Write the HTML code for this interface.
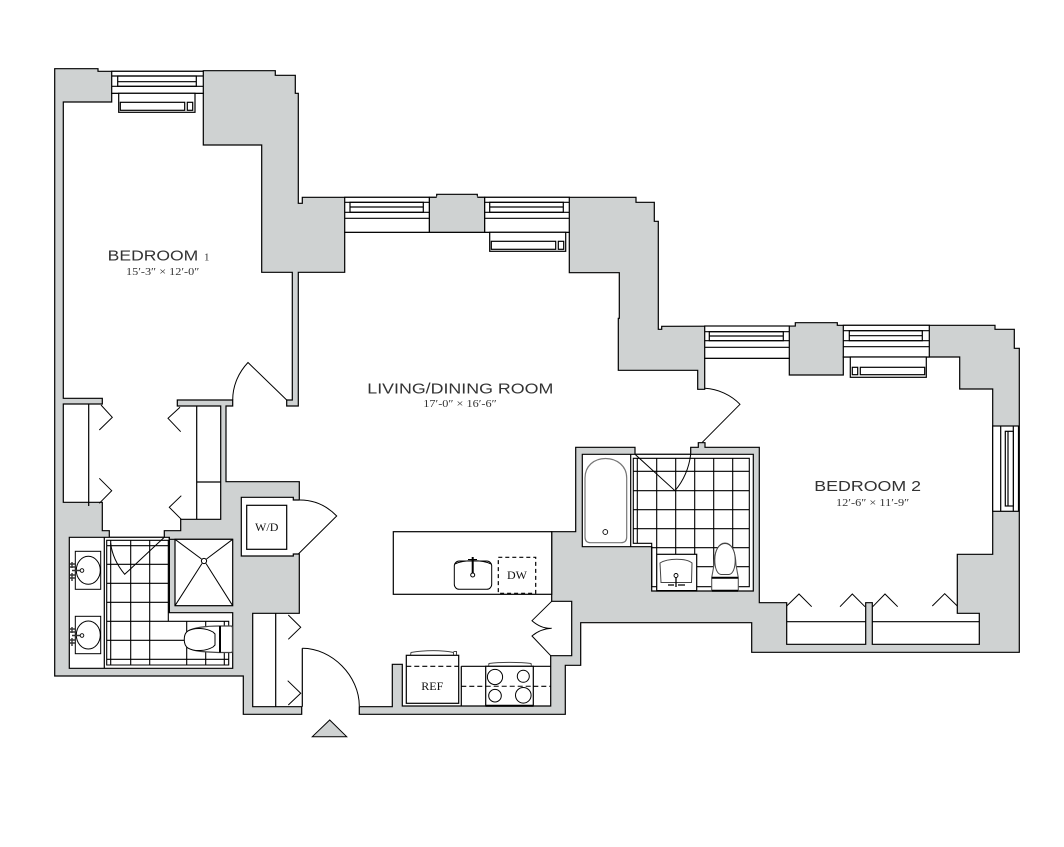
<!DOCTYPE html>
<html>
<head>
<meta charset="utf-8">
<style>
html,body{margin:0;padding:0;background:#fff;width:1064px;height:847px;overflow:hidden}
svg{display:block}
.t{font-family:"Liberation Sans",sans-serif;font-size:14.6px;fill:#333}
.s{font-family:"Liberation Serif",serif;font-size:11px;fill:#333}
.a{font-family:"Liberation Serif",serif;font-size:12px;fill:#111;text-anchor:middle}
</style>
</head>
<body>
<svg width="1064" height="847" viewBox="0 0 1064 847" xmlns="http://www.w3.org/2000/svg">
<g stroke="#000" stroke-width="1.2" fill="none" stroke-linejoin="miter">
<!-- walls -->
<polygon fill="#cfd2d2" points="301.7,706.7 301.7,714.3 243.3,714.3 243.3,676 54.7,676 54.7,68.7 98,68.7 98,71.3 111.7,71.3 203.3,71.3 203.3,70.7 275.3,70.7 275.3,75.3 295.3,75.3 295.3,93.3 298.3,93.3 298.3,203.3 302.3,203.3 302.3,197.3 436.7,197.3 436.7,194.3 477.3,194.3 477.3,197.3 636,197.3 636,202.3 654.3,202.3 654.3,221.3 658.3,221.3 658.3,329.3 661.7,329.3 661.7,326.3 795.3,326 795.3,322.7 837.3,322.7 837.3,325.3 995,325.3 995,329.3 1014.3,329.3 1014.3,348.3 1019.3,348.3 1019.3,652.3 751.7,652.3 751.7,622.7 580.7,622.7 580.7,665.3 565.3,665.3 565.3,714.3 359.3,714.3 359.3,706.7 392.3,706.7 392.3,664.3 402.3,664.3 402.3,706 550.7,706 550.7,655.7 571.7,655.7 571.7,601.3 551.7,601.3 551.7,531.7 575.7,531.7 575.7,447.3 635,447.3 635,454.3 690.7,454.3 690.7,447.3 698.3,447.3 698.3,442.7 705,442.7 705,447.3 759.3,447.3 759.3,602.7 786.7,602.7 786.7,644.3 865.7,644.3 865.7,602.7 872.3,602.7 872.3,644.3 979.3,644.3 979.3,613.3 957.3,613.3 957.3,554.3 992.7,554.3 992.7,389 959.7,389 959.7,357 843.3,357 843.3,375 789.3,375 789.3,358.3 704.7,358.3 704.7,389.3 697.7,389.3 697.7,370.3 618.3,370.3 618.3,318.3 619.3,318.3 619.3,272.7 569.3,272.7 569.3,232.3 344.7,232.3 344.7,272.3 298.3,272.3 298.3,406 286.7,406 286.7,400 292.3,400 292.3,272.3 261.7,272.3 261.7,145 203.3,145 203.3,93.3 111.7,93.3 111.7,102 63.3,102 63.3,398.3 102.3,398.3 102.3,404 63.3,404 63.3,502.3 102.3,502.3 102.3,530.7 109.3,530.7 109.3,537.3 164.3,537.3 164.3,530.7 180.7,530.7 180.7,519.3 220.7,519.3 220.7,406 177.3,406 177.3,400 232.7,400 232.7,406 226,406 226,481.7 299.3,481.7 299.3,500 293.3,500 293.3,497.3 241.3,497.3 241.3,556 293.3,556 293.3,554 299.3,554 299.3,613.3 252.7,613.3 252.7,706.7"/>
<!-- kitchen counter -->
<rect x="393.3" y="531.7" width="158.4" height="62.6" fill="#fff"/>
<!-- central pier between living windows -->
<rect x="429.3" y="197.3" width="55.4" height="35" fill="#cfd2d2"/>
<path d="M436.7 197.3H477.3" stroke="#cfd2d2" stroke-width="2"/>

<!-- windows -->
<g fill="#fff">
<rect x="111.7" y="71.3" width="91.6" height="22"/>
<rect x="117.7" y="76" width="78.6" height="10.3"/>
<path d="M111.7 76H203.3M111.7 86.3H203.3M117.7 81.7H196.3"/>
<rect x="344.7" y="197.3" width="84.6" height="35"/>
<rect x="350" y="202.3" width="73.3" height="10"/>
<path d="M344.7 202.3H429.3M344.7 212.3H429.3M344.7 218.3H429.3M350 207H423.3"/>
<rect x="484.7" y="197.3" width="84.6" height="35"/>
<rect x="489.7" y="202.3" width="73.6" height="10"/>
<path d="M484.7 202.3H569.3M484.7 212.3H569.3M484.7 218.3H569.3M489.7 207H563.3"/>
<rect x="704.7" y="326" width="84.6" height="32.3"/>
<rect x="709.3" y="331.7" width="74" height="9"/>
<path d="M704.7 331.7H789.3M704.7 340.7H789.3M704.7 347.3H789.3M709.3 336H783.3"/>
<rect x="843.3" y="325.3" width="86" height="31.7"/>
<rect x="849.3" y="330.7" width="73" height="10"/>
<path d="M843.3 330.7H929.3M843.3 340.7H929.3M843.3 346.7H929.3M849.3 335.7H922.3"/>
<rect x="992.7" y="426" width="25.8" height="85.3"/>
<path d="M1000.7 426V511.3M1013.3 426V511.3"/>
<rect x="1005.3" y="431.3" width="8" height="74.7"/>
<path d="M1008 431.3V506"/>
<!-- radiators -->
<rect x="118.7" y="93.3" width="76.3" height="19"/>
<rect x="120.3" y="102.3" width="64.4" height="8"/>
<rect x="187.3" y="102.3" width="5.4" height="8"/>
<rect x="489.7" y="232.3" width="76" height="19"/>
<rect x="491.3" y="241.3" width="64.4" height="8"/>
<rect x="558.3" y="241.3" width="5.4" height="8"/>
<rect x="850.3" y="357" width="76" height="20.3"/>
<rect x="852.3" y="367.3" width="5.4" height="7.4"/>
<rect x="860.3" y="367.3" width="64.4" height="7.4"/>
</g>

<!-- bedroom closets -->
<path d="M88.7 404V506M196.7 406V519.3M196.7 482H220.7"/>
<path stroke-width="1" d="M101 405L112.3 417.3L99.3 430M99.3 478.3L111.7 490.7L99.3 503.3M180 407.3L168 418.3L180.7 431.7M181.3 495.7L169.3 507.3L181.3 519.3"/>
<!-- entry closet -->
<path d="M275.7 613.3V706.7M302.3 648.3V706.7"/>
<path stroke-width="1" d="M288.3 615L300.7 627.3L288.3 639.3M287.7 680.7L300.7 693.3L288.3 705"/>
<!-- doors -->
<path stroke-width="1" d="M302.3 648.3C332 648.3 359.3 676 359.3 706"/>
<path stroke-width="1" d="M232.7 400C232.7 385 239 372 248 362.5L286.7 400"/>
<path stroke-width="1" d="M300 500C315 500 327 506 336.7 516L298.3 554"/>
<path stroke-width="1" d="M705 388.3C718 389 731 395 740 404.3L702.3 442.3"/>
<!-- W/D -->
<rect x="246.7" y="505.3" width="40" height="44"/>

<!-- master bath -->
<path fill="#fff" d="M69.3 537.3H169.3V612.7H232.7V668.3H69.3Z"/>
<path d="M104.3 537.3V668.3M169.3 537.3V612.7M169.3 539.3H232.7"/>
<path stroke-width="1.1" d="M106.7 540.3H168.3V621.3H228.7V665H106.7ZM110.7 540.3V665M224.3 621.3V665M130.7 540.3V665M149.7 540.3V665M186.7 621.3V665M205.7 621.3V665M106.7 545.7H168.3M106.7 564.3H168.3M106.7 583.3H168.3M106.7 602.3H168.3M106.7 621.3H168.3M106.7 640.3H228.7M106.7 659.3H228.7"/>
<rect x="175" y="539.3" width="57.7" height="66.4" fill="#fff"/>
<path stroke-width="1" d="M175 539.3L201.5 559M232.7 539.3L206.5 559M175 605.7L202 563.5M232.7 605.7L206 563.5"/>
<circle cx="204" cy="561" r="2.6" fill="#fff" stroke-width="1"/>
<path stroke-width="1" d="M164.3 537.3L124.7 574.3C117 565 112 555 110.7 543.3" fill="none"/>
<g fill="#fff" stroke-width="1">
<rect x="75.3" y="551.3" width="25.4" height="38"/>
<ellipse cx="88.3" cy="570.3" rx="12" ry="14"/>
<rect x="75.3" y="616.3" width="25.4" height="37.4"/>
<ellipse cx="88.3" cy="635" rx="12" ry="14"/>
</g>
<g stroke-width="1.4" stroke="#333">
<path d="M72 570.5H82M72 562V568M72 573V581M70 564H75M70 578H75M70 567H75M70 575H75"/>
<path d="M72 635.5H82M72 627V633M72 638V646M70 629H75M70 643H75M70 632H75M70 640H75"/>
</g>
<circle cx="82" cy="570.5" r="1.8" fill="#fff" stroke-width="0.9"/>
<circle cx="82" cy="635.5" r="1.8" fill="#fff" stroke-width="0.9"/>
<!-- master toilet -->
<path fill="#fff" stroke="#444" stroke-width="1.2" d="M220 626C208 626 195 627 188 631C183 634 184 645 188 648C195 652 208 652 220 652.5H231Q232.5 652.5 232.5 651V628Q232.5 626 231 626Z"/>
<path fill="#fff" stroke-width="1" d="M188 631C195 627 206 628 213 632L215 634V645L213 647C206 651 195 652 188 648C183 645 183 634 188 631Z"/>
<path stroke-width="2" d="M220 626V652.5"/>

<!-- second bath -->
<path fill="#fff" d="M582.3 454.3H753.3V591H651.7V546.7H582.3Z"/>
<path d="M630.7 454.3V546.7"/>
<path stroke-width="1.1" d="M633.3 458.3H749.3V586.7H651.7V543.3H633.3ZM637.3 458.3V543.3M656.7 458.3V554M675.7 458.3V554M694.7 458.3V554M713.7 458.3V586.7M732.7 458.3V586.7M633.3 471.3H749.3M633.3 490.7H749.3M633.3 509.7H749.3M633.3 528.7H749.3M651.7 547.7H749.3M696.7 566.7H749.3"/>
<path stroke="#777" stroke-width="1.2" fill="#fff" d="M585 478C585 466 594 458.5 605.5 458.5C617 458.5 626.7 466 626.7 478V537Q626.7 542.7 621 542.7H590.5Q585 542.7 585 537Z"/>
<circle cx="605.3" cy="532" r="2.4" stroke-width="0.9"/>
<path stroke-width="1" d="M635 454.3L675 490.7C684 480 689 468 690.7 454.3"/>
<rect x="656.7" y="554.3" width="40" height="36.7" fill="#fff"/>
<path stroke="#444" stroke-width="1" fill="#fff" d="M660 563C668 558 686 558 692 563L691.5 582.5H661Z"/>
<circle cx="676" cy="575.5" r="2" fill="#fff" stroke-width="0.9"/>
<path stroke-width="1.3" d="M676 577V587M668 585H674M678 585H685M656.7 590.7H696.7"/>
<!-- second toilet -->
<path fill="#fff" stroke="#555" stroke-width="1.1" d="M711.7 577.7L714 565C714.5 552 718 543 725 543C732 543 735.5 552 736 565L738.3 577.7V590.7H711.7Z"/>
<path fill="#fff" stroke="#444" stroke-width="1" d="M725 543.5C719 543.5 714.8 550 714.8 560C714.8 568 717 574 721 574.5H729C733 574 735.2 568 735.2 560C735.2 550 731 543.5 725 543.5Z"/>
<path stroke-width="2" d="M711.7 577.7H738.3M711.7 590.7H738.3"/>

<!-- kitchen -->
<rect x="454.3" y="561" width="37.4" height="28.3" rx="5" fill="#fff" stroke-width="1"/>
<path stroke-width="1" d="M454.8 564C464 559.5 482 559.5 491.2 564"/>
<path stroke-width="2" d="M472.7 557V573"/>
<path stroke-width="1" d="M468 559.5H477"/>
<circle cx="472.7" cy="575" r="2" fill="#fff" stroke-width="1"/>
<rect x="498.3" y="557.3" width="37.4" height="36" stroke-dasharray="4 3"/>
<path stroke-width="1" d="M551.7 601.3L532 620.7C538 626 545 628.6 551.7 628.3C545 628.6 538 631 532 636L550.7 655.7"/>
<rect x="406.3" y="655.3" width="52.4" height="48"/>
<path stroke-dasharray="5 3" d="M406.3 666.3H458.7"/>
<path stroke-width="1" stroke="#444" d="M410.5 655L411 652.5C425 650 442 650 453.5 652.5V655M453.5 651.5H456.5V655"/>
<path d="M461.3 666.3H550.7M461.3 666.3V706"/>
<path stroke-dasharray="5 3" d="M461.3 686.3H550.7"/>
<rect x="485.7" y="666.3" width="47.6" height="39.7" fill="#fff"/>
<path stroke-dasharray="5 3" d="M485.7 686.3H533.3" stroke-width="1"/>
<path stroke-width="2" d="M485.7 705.7H533.3"/>
<path stroke-width="1" stroke="#444" d="M488.5 666L489 663.5C500 662 520 662 531 663.5L531.5 666"/>
<g stroke-width="1">
<circle cx="495" cy="677" r="7.6"/>
<circle cx="523.3" cy="676.3" r="6"/>
<circle cx="495" cy="695.7" r="6.3"/>
<circle cx="523.3" cy="695.3" r="7.8"/>
</g>

<!-- bedroom 2 closet -->
<path d="M786.7 621.7H865.7M872.3 621.7H979.3"/>
<path stroke-width="1" d="M786.7 606L799 594L811.7 606.7M840 606.7L852.3 594L865 606.7M872.7 606.7L885 594L897.7 606.7M932.3 606L944.7 593.7L957.3 606"/>

<!-- entry triangle -->
<polygon fill="#cfd2d2" stroke-width="1" points="312.3,736.7 329.7,720 346.7,736.7"/>
</g>

<!-- text -->
<text class="t" x="107.7" y="260.7" textLength="90.6" lengthAdjust="spacingAndGlyphs">BEDROOM</text>
<text class="s" x="204" y="260.7">1</text>
<text class="s" x="126" y="275" textLength="73.3" lengthAdjust="spacingAndGlyphs">15′-3″ × 12′-0″</text>
<text class="t" x="367.3" y="393.3" textLength="186" lengthAdjust="spacingAndGlyphs">LIVING/DINING ROOM</text>
<text class="s" x="423.3" y="407" textLength="73.4" lengthAdjust="spacingAndGlyphs">17′-0″ × 16′-6″</text>
<text class="t" x="814.3" y="491" textLength="106.7" lengthAdjust="spacingAndGlyphs">BEDROOM 2</text>
<text class="s" x="836" y="506" textLength="73.3" lengthAdjust="spacingAndGlyphs">12′-6″ × 11′-9″</text>
<text class="a" x="266.7" y="531">W/D</text>
<text class="a" x="517" y="579">DW</text>
<text class="a" x="432.3" y="690">REF</text>
</svg>
</body>
</html>
